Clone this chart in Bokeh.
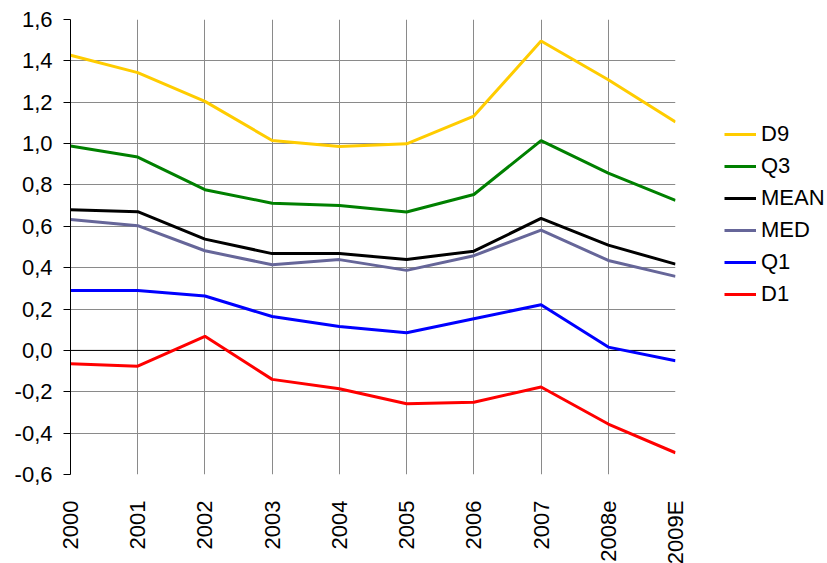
from math import pi
from bokeh.plotting import figure
from bokeh.models import Range1d, FixedTicker, Span, Legend, LegendItem
from bokeh.embed import file_html
from bokeh.resources import INLINE

years = ["2000", "2001", "2002", "2003", "2004", "2005", "2006", "2007", "2008e", "2009E"]
d9 = [1.427, 1.343, 1.204, 1.015, 0.986, 0.999, 1.133, 1.496, 1.309, 1.104]
q3 = [0.988, 0.935, 0.777, 0.712, 0.701, 0.669, 0.754, 1.014, 0.857, 0.725]
mean = [0.680, 0.671, 0.538, 0.468, 0.468, 0.440, 0.480, 0.638, 0.509, 0.417]
med = [0.633, 0.603, 0.482, 0.414, 0.439, 0.387, 0.458, 0.582, 0.435, 0.358]
q1 = [0.290, 0.290, 0.263, 0.164, 0.116, 0.085, 0.153, 0.221, 0.016, -0.050]
d1 = [-0.064, -0.076, 0.068, -0.140, -0.185, -0.258, -0.251, -0.177, -0.356, -0.495]

series_names = ["D9", "Q3", "MEAN", "MED", "Q1", "D1"]
series_values = [d9, q3, mean, med, q1, d1]
series_colors = ["#FFCC00", "#008000", "#000000", "#666699", "#0000FF", "#FF0000"]

y_ticks = [-0.6, -0.4, -0.2, 0.0, 0.2, 0.4, 0.6, 0.8, 1.0, 1.2, 1.4, 1.6]
y_tick_labels = ["-0,6", "-0,4", "-0,2", "0,0", "0,2", "0,4", "0,6", "0,8", "1,0", "1,2", "1,4", "1,6"]

FONT = "Liberation Sans"
FS = "22px"

xs = list(range(len(years)))

p = figure(frame_width=605, frame_height=455, output_backend="svg", toolbar_location=None,
           x_range=Range1d(0, len(years) - 1), y_range=Range1d(-0.6, 1.6),
           min_border_left=70, min_border_right=0, min_border_top=19, min_border_bottom=89)
p.outline_line_color = None
p.background_fill_color = "white"
p.border_fill_color = "white"

# grids
p.xgrid.ticker = FixedTicker(ticks=xs)
p.ygrid.ticker = FixedTicker(ticks=y_ticks)
for g in (p.xgrid, p.ygrid):
    g.grid_line_color = "#8a8a8a"
    g.grid_line_width = 1

# y axis
p.yaxis.ticker = FixedTicker(ticks=y_ticks)
p.yaxis.major_label_overrides = {t: l for t, l in zip(y_ticks, y_tick_labels)}
p.yaxis.axis_line_color = "black"
p.yaxis.major_tick_line_color = "black"
p.yaxis.major_tick_out = 7
p.yaxis.major_tick_in = 0
p.yaxis.minor_tick_line_color = None
p.yaxis.major_label_standoff = 11
p.yaxis.major_label_text_font = FONT
p.yaxis.major_label_text_font_size = FS
p.yaxis.major_label_text_color = "black"

# x axis
p.xaxis.ticker = FixedTicker(ticks=xs)
p.xaxis.major_label_overrides = {i: y for i, y in zip(xs, years)}
p.xaxis.axis_line_color = None
p.xaxis.major_tick_line_color = None
p.xaxis.minor_tick_line_color = None
p.xaxis.major_label_orientation = pi / 2
p.xaxis.major_label_standoff = 20
p.xaxis.major_label_text_font = FONT
p.xaxis.major_label_text_font_size = FS
p.xaxis.major_label_text_color = "black"

zero = Span(location=0, dimension="width", line_color="black", line_width=1, level="underlay")
p.add_layout(zero)

items = []
for name, vals, col in zip(series_names, series_values, series_colors):
    r = p.line(xs, vals, line_color=col, line_width=3)
    items.append(LegendItem(label=name, renderers=[r]))

legend = Legend(items=items, location=(49, 164))
legend.border_line_color = None
legend.background_fill_alpha = 0
legend.padding = 0
legend.margin = 0
legend.spacing = 0
legend.label_height = 32
legend.glyph_height = 32
legend.glyph_width = 32
legend.label_standoff = 5
legend.label_text_font = FONT
legend.label_text_font_size = FS
legend.label_text_color = "black"
p.add_layout(legend, "right")

open("out.html", "w").write(file_html(p, INLINE))
